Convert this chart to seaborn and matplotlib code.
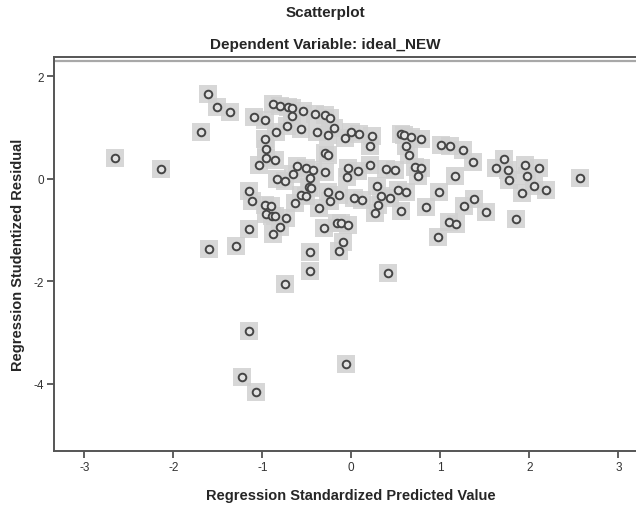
import matplotlib
matplotlib.use("Agg")
import matplotlib.pyplot as plt
import seaborn as sns
import pandas as pd

# Regression standardized predicted value (x) and studentized residual (y)
pred = [
    -1.61, -1.51, -1.36, -1.69, -2.14, -0.88, -0.80, -0.71, -0.67, -0.54,
    -0.41, -0.29, -0.24, -1.09, -0.97, -0.67, -0.72, -0.85, -0.56, -0.38,
    -0.26, -0.19, -0.07, 0.00, 0.09, 0.23, 0.21, -0.97, -0.96, -0.96,
    -0.86, -1.04, -0.61, -0.51, -0.43, -0.29, -0.26, -0.29, -0.65, -0.46,
    -0.84, -0.74, -0.48, -0.45, -0.04, 0.07, -0.05, 0.21, 0.39, 0.49,
    0.29, 0.33, 0.43, 0.30, 0.27, -1.15, -1.12, -0.97, -0.90, -0.96,
    -0.89, -0.86, -0.73, -0.80, -0.88, -1.15, -0.57, -0.51, -0.63, -0.36,
    -0.26, -0.14, -0.24, 0.03, 0.12, -0.31, -0.16, -0.12, -0.04, -0.09,
    -0.14, -0.46, -1.29, -1.60,
    0.56, 0.59, 0.67, 0.78, 0.62, 0.65, 1.01, 1.11, 1.25, 1.37,
    0.72, 0.78, 0.75, 1.17, 0.52, 0.62, 0.56, 0.99, 0.84, 1.38,
    1.27, 1.51, 1.10, 1.18, 0.97, 1.72, 1.63, 1.76, 1.77, 1.95,
    2.11, 1.97, 2.05, 1.92, 2.19, 1.85, 2.57,
    -0.46, -0.74, 0.41, -1.15, -0.06, -1.23, -1.07, -2.65,
]
resid = [
    1.65, 1.41, 1.31, 0.92, 0.19, 1.46, 1.43, 1.41, 1.38, 1.33,
    1.27, 1.24, 1.19, 1.20, 1.15, 1.22, 1.04, 0.92, 0.98, 0.91,
    0.85, 1.00, 0.79, 0.91, 0.88, 0.83, 0.65, 0.78, 0.59, 0.41,
    0.37, 0.27, 0.25, 0.21, 0.18, 0.50, 0.47, 0.13, 0.10, 0.02,
    0.00, -0.04, -0.16, -0.18, 0.21, 0.16, 0.03, 0.27, 0.20, 0.18,
    -0.13, -0.33, -0.37, -0.50, -0.66, -0.24, -0.44, -0.50, -0.53, -0.68,
    -0.72, -0.72, -0.77, -0.93, -1.07, -0.98, -0.31, -0.33, -0.46, -0.57,
    -0.26, -0.31, -0.44, -0.37, -0.41, -0.96, -0.86, -0.86, -0.89, -1.24,
    -1.40, -1.43, -1.30, -1.37,
    0.87, 0.86, 0.81, 0.78, 0.65, 0.46, 0.66, 0.64, 0.57, 0.34,
    0.24, 0.21, 0.05, 0.05, -0.21, -0.26, -0.62, -0.25, -0.54, -0.40,
    -0.53, -0.65, -0.85, -0.87, -1.14, 0.38, 0.21, 0.18, -0.02, 0.27,
    0.21, 0.06, -0.14, -0.27, -0.21, -0.79, 0.01,
    -1.80, -2.05, -1.84, -2.97, -3.61, -3.86, -4.15, 0.41,
]

x_ticks = [-3, -2, -1, 0, 1, 2, 3]
y_ticks = [2, 0, -2, -4]

df = pd.DataFrame({"pred": pred, "resid": resid})

sns.set_style("ticks")
plt.rcParams["font.family"] = ["Liberation Sans", "DejaVu Sans"]

fig = plt.figure(figsize=(6.36, 5.10), dpi=100)
ax = fig.add_axes([54 / 636, 1 - 452 / 510, 1 - 54 / 636 + 0.01, (452 - 58) / 510])

# grey halo behind each point
sns.scatterplot(data=df, x="pred", y="resid", ax=ax, marker="s", s=160,
                color="#d0d0d0", linewidth=0, alpha=0.85, zorder=2, legend=False)
# hollow circle markers
sns.scatterplot(data=df, x="pred", y="resid", ax=ax, marker="o", s=30,
                facecolor="#e2e2e2", edgecolor="#454545", linewidth=1.4,
                zorder=3, legend=False)

ax.set_xlim(-3.34, 3.27)
ax.set_ylim(-5.31, 2.38)
ax.axhline(2.30, color="#a8a8a8", lw=1.6, zorder=1)

ax.set_xticks(x_ticks)
ax.set_xticklabels([str(t) for t in x_ticks])
ax.set_yticks(y_ticks)
ax.set_yticklabels([str(t) for t in y_ticks])
ax.tick_params(axis="both", labelsize=8.5, length=5, width=1.2, color="#444444",
               labelcolor="#333333", pad=2)

for side in ["left", "bottom", "top"]:
    ax.spines[side].set_color("#555555")
    ax.spines[side].set_linewidth(1.4)
ax.spines["right"].set_visible(False)

ax.set_xlabel("Regression Standardized Predicted Value", fontsize=10.5,
              fontweight="bold")
ax.set_ylabel("Regression Studentized Residual", fontsize=10.5,
              fontweight="bold")
ax.xaxis.set_label_coords((351 - 54) / (636 - 54 + 6.36), -0.095)
ax.yaxis.set_label_coords(-0.05, 0.5)

fig.text(325 / 636, 1 - 13 / 510, "Scatterplot", ha="center", va="center",
         fontsize=11, fontweight="bold")
fig.text(325 / 636, 1 - 45 / 510, "Dependent Variable: ideal_NEW", ha="center",
         va="center", fontsize=11, fontweight="bold")

fig.savefig("out.png", dpi=100)
